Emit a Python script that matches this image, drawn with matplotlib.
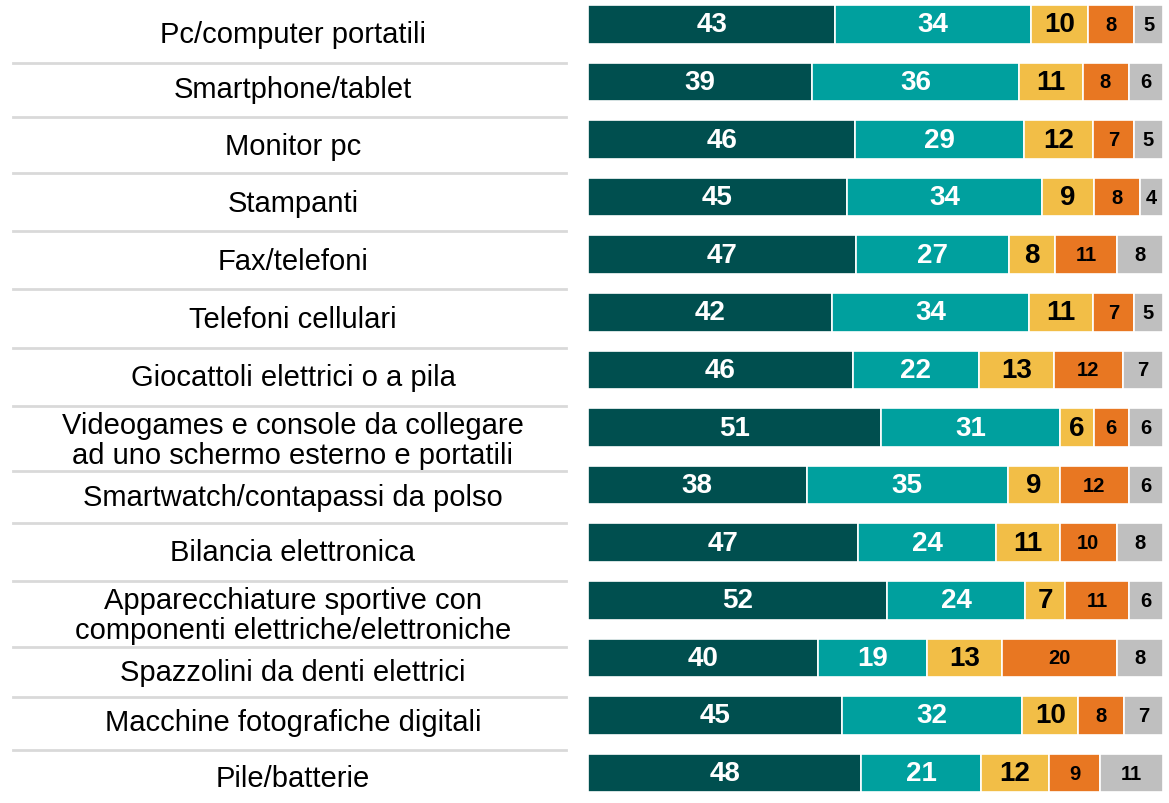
import matplotlib
matplotlib.use("Agg")
import matplotlib.pyplot as plt
from matplotlib.lines import Line2D
import numpy as np

plt.rcParams['font.family'] = ['Liberation Sans', 'DejaVu Sans']

categories = [
    "Pc/computer portatili",
    "Smartphone/tablet",
    "Monitor pc",
    "Stampanti",
    "Fax/telefoni",
    "Telefoni cellulari",
    "Giocattoli elettrici o a pila",
    "Videogames e console da collegare\nad uno schermo esterno e portatili",
    "Smartwatch/contapassi da polso",
    "Bilancia elettronica",
    "Apparecchiature sportive con\ncomponenti elettriche/elettroniche",
    "Spazzolini da denti elettrici",
    "Macchine fotografiche digitali",
    "Pile/batterie",
]
s1 = [43, 39, 46, 45, 47, 42, 46, 51, 38, 47, 52, 40, 45, 48]
s2 = [34, 36, 29, 34, 27, 34, 22, 31, 35, 24, 24, 19, 32, 21]
s3 = [10, 11, 12, 9, 8, 11, 13, 6, 9, 11, 7, 13, 10, 12]
s4 = [8, 8, 7, 8, 11, 7, 12, 6, 12, 10, 11, 20, 8, 9]
s5 = [5, 6, 5, 4, 8, 5, 7, 6, 6, 8, 6, 8, 7, 11]

series = [s1, s2, s3, s4, s5]
colors = ["#004F4F", "#00A09E", "#F2BE47", "#E87722", "#BFBFBF"]
text_colors = ["white", "white", "black", "black", "black"]
text_sizes = [20, 20, 20, 14.5, 14.5]

W, H = 1169, 804
fig = plt.figure(figsize=(W / 100, H / 100), dpi=100)

# bar axes: x from 588 to 1163 px
x0, x1 = 588, 1163
ax = fig.add_axes([x0 / W, 0, (x1 - x0) / W, 1])
n = len(categories)
row_h = 57.6
c0 = 25.3
ax.set_ylim((H - c0) / row_h, -c0 / row_h)
ax.set_xlim(0, 100)
ax.axis("off")

raw = np.array(series, dtype=float)
totals = raw.sum(axis=0)
shares = raw / totals * 100  # each bar spans the full 100% width

y = np.arange(n)
left = np.zeros(n)
for k in range(len(series)):
    vals = shares[k]
    ax.barh(y, vals, left=left, height=0.668, color=colors[k],
            edgecolor="white", linewidth=1.2)
    for i in range(n):
        ax.text(left[i] + vals[i] / 2, y[i], f"{int(raw[k, i])}",
                ha="center", va="center", color=text_colors[k],
                fontsize=text_sizes[k], fontweight="bold")
    left += vals

# category labels (left table)
label_y = [35, 90, 147, 204, 262, 320, 378, 441, 498, 553, 616, 673, 723, 779]
line_y = [64, 118, 174, 232, 290, 349, 407, 472, 524, 582, 648, 698, 751]
for cat, ly in zip(categories, label_y):
    fig.text(293 / W, 1 - ly / H, cat, ha="center", va="center",
             fontsize=21, color="black", linespacing=1.05)
for ly in line_y:
    fig.add_artist(Line2D([13 / W, 566 / W], [1 - ly / H, 1 - ly / H],
                          transform=fig.transFigure, color="#D9D9D9", lw=2))

fig.savefig("out.png", dpi=100)
